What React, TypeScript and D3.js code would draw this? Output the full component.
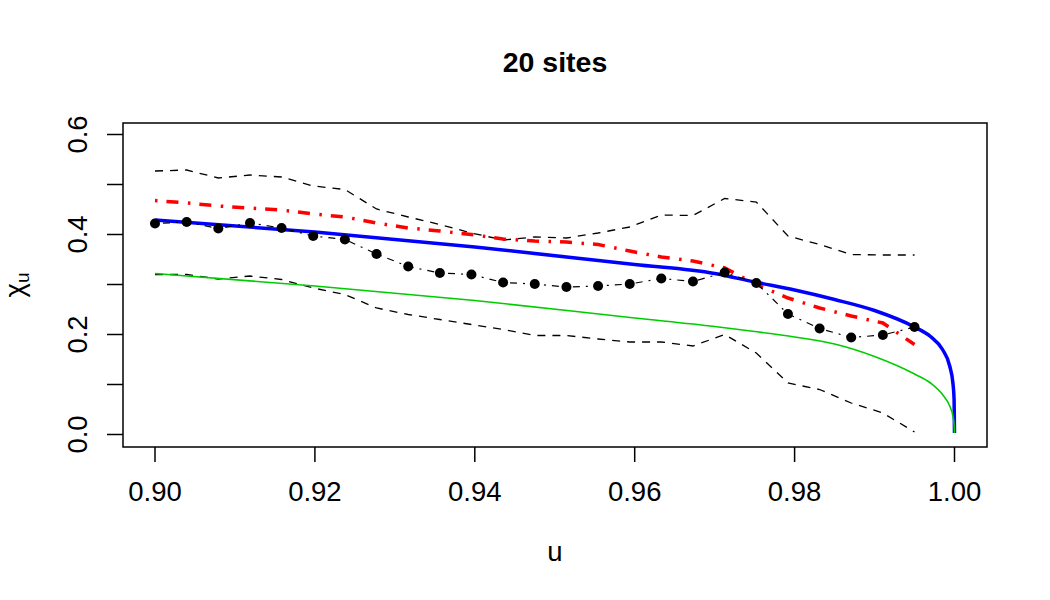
import React from "react";
import * as d3 from "d3";

// empirical grid (25 thresholds)
const uGrid = [
  0.9, 0.90396, 0.90792, 0.91188, 0.91583, 0.91979, 0.92375, 0.92771, 0.93167,
  0.93563, 0.93958, 0.94354, 0.9475, 0.95146, 0.95542, 0.95938, 0.96333,
  0.96729, 0.97125, 0.97521, 0.97917, 0.98313, 0.98708, 0.99104, 0.995,
];
const chiEmp = [
  0.422, 0.425, 0.412, 0.423, 0.413, 0.397, 0.39, 0.361, 0.336, 0.323, 0.32,
  0.304, 0.301, 0.295, 0.297, 0.301, 0.312, 0.306, 0.324, 0.303, 0.241, 0.212,
  0.194, 0.199, 0.215,
];
const upperBand = [
  0.527, 0.529, 0.513, 0.519, 0.515, 0.497, 0.49, 0.451, 0.435, 0.42, 0.403,
  0.389, 0.395, 0.393, 0.403, 0.415, 0.439, 0.438, 0.472, 0.465, 0.397, 0.38,
  0.36, 0.359, 0.359,
];
const lowerBand = [
  0.32, 0.32, 0.311, 0.317, 0.31, 0.293, 0.28, 0.253, 0.24, 0.23, 0.22, 0.21,
  0.198, 0.198, 0.191, 0.185, 0.185, 0.177, 0.2, 0.163, 0.103, 0.09, 0.063,
  0.043, 0.005,
];
const redFit = [
  0.468, 0.463, 0.457, 0.453, 0.449, 0.441, 0.435, 0.423, 0.413, 0.407, 0.4,
  0.391, 0.387, 0.385, 0.38, 0.367, 0.355, 0.347, 0.333, 0.3, 0.273, 0.253,
  0.237, 0.223, 0.18,
];

// model curves
const uModel = [
  0.9, 0.92, 0.94, 0.96, 0.97, 0.975, 0.98, 0.985, 0.99, 0.995, 0.997, 0.9985,
  0.9994, 0.9998, 0.99995, 1.0,
];
const blueModel = [
  0.429, 0.405, 0.375, 0.34, 0.322, 0.305, 0.289, 0.27, 0.248, 0.215, 0.196,
  0.17, 0.137, 0.103, 0.07, 0.003,
];
const greenModel = [
  0.322, 0.297, 0.268, 0.233, 0.216, 0.206, 0.195, 0.181, 0.156, 0.121, 0.103,
  0.08, 0.057, 0.037, 0.02, 0.003,
];

const xTicks = [0.9, 0.92, 0.94, 0.96, 0.98, 1.0];
const yTicks = [0, 0.1, 0.2, 0.3, 0.4, 0.5, 0.6];
const yLabels = [0, 0.2, 0.4, 0.6];

const W = 1050;
const H = 600;
const box = { left: 123, right: 987, top: 123, bottom: 447 };
const FONT = "'Liberation Sans', Arial, Helvetica, sans-serif";

export default function App() {
  const x = d3.scaleLinear().domain([0.9, 1.0]).range([155, 954.5]);
  const y = d3.scaleLinear().domain([0, 0.6]).range([434.5, 134.5]);

  const lineGrid = (vals: number[]) =>
    d3
      .line<number>()
      .x((_, i) => x(uGrid[i]))
      .y((d) => y(d))(vals) as string;

  const lineModel = (vals: number[]) =>
    d3
      .line<number>()
      .x((_, i) => x(uModel[i]))
      .y((d) => y(d))
      .curve(d3.curveMonotoneX)(vals) as string;

  return (
    <svg
      width={W}
      height={H}
      style={{ position: "absolute", left: 0, top: 0, background: "#fff" }}
      fontFamily={FONT}
    >
      <rect width={W} height={H} fill="#fff" />

      {/* title */}
      <text x={555} y={72} textAnchor="middle" fontSize={28.5} fontWeight="bold">
        20 sites
      </text>

      {/* envelopes */}
      <path d={lineGrid(upperBand)} fill="none" stroke="#000" strokeWidth={1.3} strokeDasharray="8,7" />
      <path d={lineGrid(lowerBand)} fill="none" stroke="#000" strokeWidth={1.3} strokeDasharray="8,7" />

      {/* model curves */}
      <path d={lineModel(blueModel)} fill="none" stroke="#0000ff" strokeWidth={3.5} />
      <path d={lineModel(greenModel)} fill="none" stroke="#00cd00" strokeWidth={1.6} />

      {/* red dash-dot */}
      <path
        d={lineGrid(redFit)}
        fill="none"
        stroke="#ff0000"
        strokeWidth={3.5}
        strokeDasharray="2.5,9,12,9.5"
      />

      {/* empirical points */}
      <path d={lineGrid(chiEmp)} fill="none" stroke="#000" strokeWidth={1.2} strokeDasharray="2,6,7,6" />
      {chiEmp.map((d, i) => (
        <circle key={i} cx={x(uGrid[i])} cy={y(d)} r={5} fill="#000" />
      ))}

      {/* box */}
      <rect
        x={box.left}
        y={box.top}
        width={box.right - box.left}
        height={box.bottom - box.top}
        fill="none"
        stroke="#000"
        strokeWidth={1.5}
      />

      {/* x axis */}
      {xTicks.map((t) => (
        <g key={t}>
          <line x1={x(t)} x2={x(t)} y1={box.bottom} y2={box.bottom + 15} stroke="#000" strokeWidth={1.5} />
          <text x={x(t)} y={501} textAnchor="middle" fontSize={27.5}>
            {t.toFixed(2)}
          </text>
        </g>
      ))}
      <text x={555} y={561} textAnchor="middle" fontSize={27.5}>
        u
      </text>

      {/* y axis */}
      {yTicks.map((t) => (
        <line key={t} x1={box.left - 16} x2={box.left} y1={y(t)} y2={y(t)} stroke="#000" strokeWidth={1.5} />
      ))}
      {yLabels.map((t) => (
        <text
          key={t}
          transform={`translate(87,${y(t)}) rotate(-90)`}
          textAnchor="middle"
          fontSize={27.5}
        >
          {t.toFixed(1)}
        </text>
      ))}
      <text transform="translate(24,285) rotate(-90)" textAnchor="middle" fontSize={27.5}>
        χ
        <tspan fontSize={19} dy={5}>
          u
        </tspan>
      </text>
    </svg>
  );
}
